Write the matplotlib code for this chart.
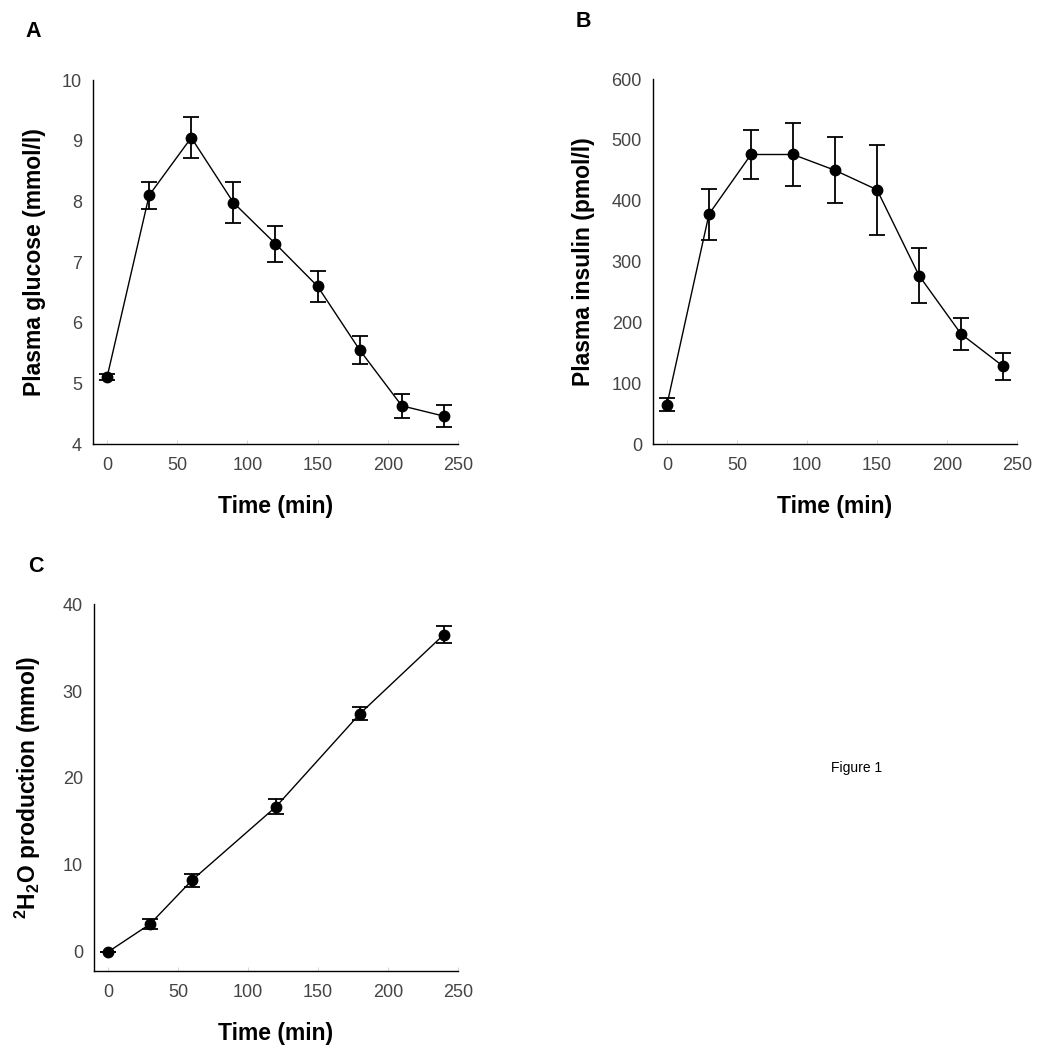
import matplotlib
matplotlib.use('Agg')
import matplotlib.pyplot as plt

plt.rcParams['font.family'] = ['Liberation Sans', 'DejaVu Sans']
plt.rcParams['mathtext.fontset'] = 'custom'
plt.rcParams['mathtext.bf'] = 'Liberation Sans:bold'
plt.rcParams['mathtext.rm'] = 'Liberation Sans:bold'

# data
time_ab = [0, 30, 60, 90, 120, 150, 180, 210, 240]
glucose = [5.1, 8.1, 9.05, 7.98, 7.3, 6.6, 5.55, 4.63, 4.46]
glucose_err = [0.05, 0.22, 0.34, 0.34, 0.3, 0.26, 0.23, 0.2, 0.18]
insulin = [65, 378, 476, 476, 450, 418, 277, 181, 128]
insulin_err = [10, 42, 41, 51, 54, 74, 45, 27, 22]

time_c = [0, 30, 60, 120, 180, 240]
h2o = [0, 3.2, 8.25, 16.7, 27.4, 36.5]
h2o_err = [0, 0.55, 0.75, 0.85, 0.75, 1.0]

xticks = [0, 50, 100, 150, 200, 250]


def panel(ax, x, y, err, ylim, yticks, ylabel, letter, lxy, ypad=11):
    ax.errorbar(x, y, yerr=err, color='black', lw=1.0, marker='o', ms=7.5,
                ecolor='black', elinewidth=1.3, capsize=5.5, capthick=1.3)
    ax.set_xlim(-10, 250)
    ax.set_ylim(*ylim)
    ax.set_xticks(xticks)
    ax.set_yticks(yticks)
    for s in ['top', 'right']:
        ax.spines[s].set_visible(False)
    for s in ['left', 'bottom']:
        ax.spines[s].set_linewidth(1.0)
    ax.tick_params(axis='x', direction='in', length=3, width=0.6, color='#d0d0d0',
                   labelsize=13, labelcolor='#444444', pad=9.5)
    ax.tick_params(axis='y', length=0, labelsize=13, labelcolor='#444444', pad=8)
    ax.set_xlabel('Time (min)', fontsize=16.5, fontweight='bold', labelpad=15)
    ax.set_ylabel(ylabel, fontsize=16.5, fontweight='bold', labelpad=ypad)
    ax.text(lxy[0], lxy[1], letter, transform=ax.transAxes, fontsize=15.5,
            fontweight='bold', va='center', ha='center')


fig = plt.figure(figsize=(10.38, 10.5), dpi=100)
ax_a = fig.add_axes([0.0896, 0.5771, 0.3516, 0.3467])
ax_b = fig.add_axes([0.6291, 0.5771, 0.3507, 0.3476])
ax_c = fig.add_axes([0.0906, 0.0752, 0.3506, 0.3495])

panel(ax_a, time_ab, glucose, glucose_err, (4, 10), [4, 5, 6, 7, 8, 9, 10],
      'Plasma glucose (mmol/l)', 'A', (-0.164, 1.132))
panel(ax_b, time_ab, insulin, insulin_err, (0, 600), [0, 100, 200, 300, 400, 500, 600],
      'Plasma insulin (pmol/l)', 'B', (-0.192, 1.159), ypad=12)
panel(ax_c, time_c, h2o, h2o_err, (-2.2, 40), [0, 10, 20, 30, 40],
      r'$\mathbf{^2H_2O}$ production (mmol)', 'C', (-0.16, 1.1035), ypad=14)

fig.text(857 / 1038, 1 - 768 / 1050, 'Figure 1', fontsize=10, ha='center', va='center')

fig.savefig('out.png', dpi=100)
